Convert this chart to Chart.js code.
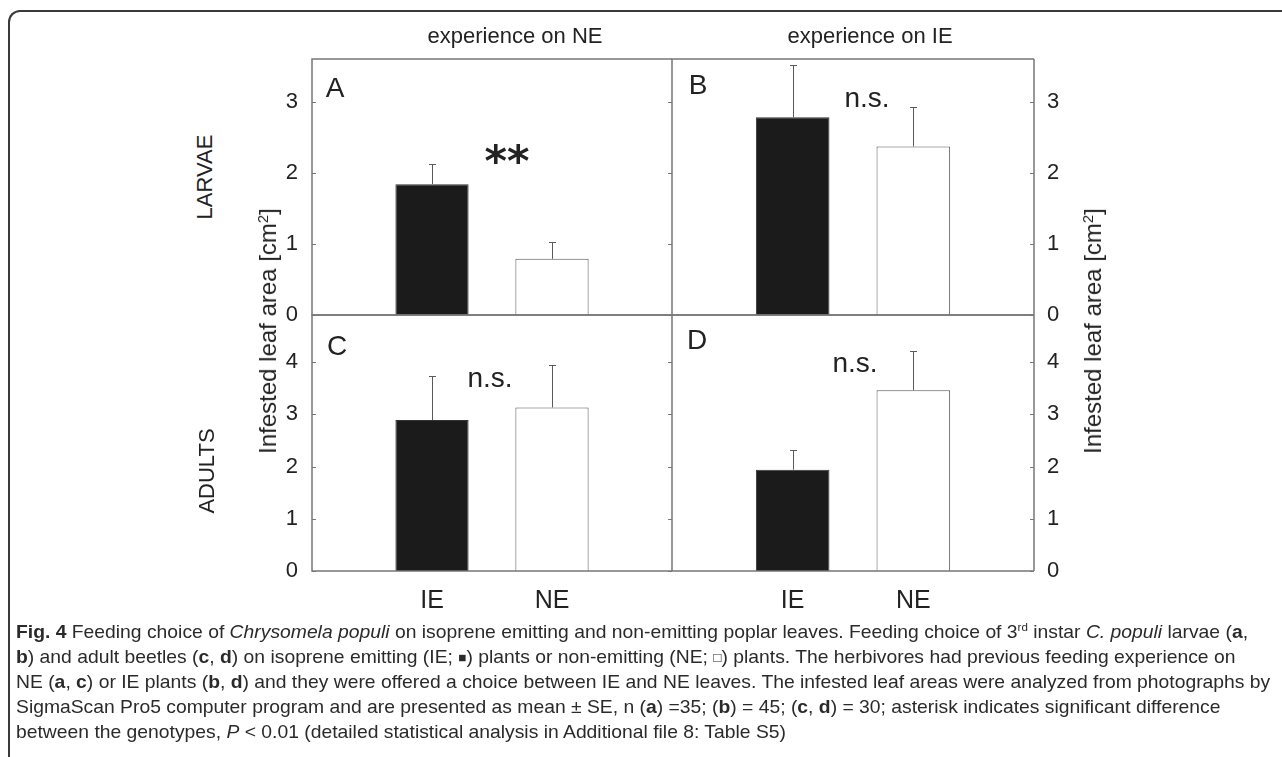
<!DOCTYPE html>
<html><head><meta charset="utf-8">
<script src="https://cdn.jsdelivr.net/npm/chart.js@4.4.1/dist/chart.umd.min.js"></script>
<style>
html,body{margin:0;padding:0;background:#fff;width:1282px;height:757px;overflow:hidden;}
body{position:relative;font-family:"Liberation Sans",Arial,sans-serif;color:#222;}
.frame{position:absolute;left:8px;top:10px;width:1300px;height:800px;border-top:2px solid #3a3a3a;border-left:2px solid #3a3a3a;border-top-left-radius:12px;}
.cv{position:absolute;}
.t{position:absolute;white-space:nowrap;line-height:1;transform:translate(-50%,-50%);}
.rot{transform:translate(-50%,-50%) rotate(-90deg);}
.rot sup{font-size:0.62em;vertical-align:0.55em;line-height:0;}
.cap{position:absolute;left:16px;top:619px;font-family:"Liberation Sans Narrow","Liberation Sans",Arial,sans-serif;font-size:19px;line-height:25px;color:#2a2a2a;white-space:nowrap;transform-origin:0 0;}
.cap .ln{display:block;height:25px;}
.cap .w{display:inline-block;}
.cap sup{font-size:0.6em;vertical-align:0.6em;line-height:0;}
.cap .sq{font-size:0.7em;vertical-align:0.1em;}
</style></head>
<body>
<div class="frame"></div>
<canvas id="cA" class="cv" width="460" height="300" style="left:222px;top:40px"></canvas>
<canvas id="cB" class="cv" width="460" height="300" style="left:662px;top:40px"></canvas>
<canvas id="cC" class="cv" width="460" height="325" style="left:222px;top:296px"></canvas>
<canvas id="cD" class="cv" width="460" height="325" style="left:662px;top:296px"></canvas>

<div class="t" style="left:515px;top:36px;font-size:22px">experience on NE</div>
<div class="t" style="left:870px;top:36px;font-size:22px">experience on IE</div>
<div class="t rot" style="left:205px;top:177px;font-size:22px">LARVAE</div>
<div class="t rot" style="left:207px;top:471px;font-size:22px">ADULTS</div>
<div class="t rot" style="left:268px;top:331px;font-size:24px">Infested leaf area [cm<sup>2</sup>]</div>
<div class="t rot" style="left:1093px;top:331px;font-size:24px">Infested leaf area [cm<sup>2</sup>]</div>
<div class="t" style="left:335px;top:88px;font-size:28px">A</div>
<div class="t" style="left:698px;top:85px;font-size:28px">B</div>
<div class="t" style="left:337px;top:346px;font-size:28px">C</div>
<div class="t" style="left:697px;top:340px;font-size:28px">D</div>
<div class="t" style="left:507px;top:161px;font-size:43px;font-weight:bold;font-family:'DejaVu Sans',sans-serif">**</div>
<div class="t" style="left:867px;top:98px;font-size:28px">n.s.</div>
<div class="t" style="left:490px;top:378px;font-size:28px">n.s.</div>
<div class="t" style="left:855px;top:363px;font-size:28px">n.s.</div>

<div class="cap" id="cap">
<div class="ln"><span class="w" id="firstLine"><b>Fig. 4</b> Feeding choice of <i>Chrysomela populi</i> on isoprene emitting and non-emitting poplar leaves. Feeding choice of 3<sup>rd</sup> instar <i>C. populi</i> larvae (<b>a</b>,</span></div>
<div class="ln"><span class="w"><b>b</b>) and adult beetles (<b>c</b>, <b>d</b>) on isoprene emitting (IE; <span class="sq">■</span>) plants or non-emitting (NE; <span class="sq">□</span>) plants. The herbivores had previous feeding experience on</span></div>
<div class="ln"><span class="w">NE (<b>a</b>, <b>c</b>) or IE plants (<b>b</b>, <b>d</b>) and they were offered a choice between IE and NE leaves. The infested leaf areas were analyzed from photographs by</span></div>
<div class="ln"><span class="w">SigmaScan Pro5 computer program and are presented as mean ± SE, n (<b>a</b>) =35; (<b>b</b>) = 45; (<b>c</b>, <b>d</b>) = 30; asterisk indicates significant difference</span></div>
<div class="ln"><span class="w">between the genotypes, <i>P</i> &lt; 0.01 (detailed statistical analysis in Additional file 8: Table S5)</span></div>
</div>

<script>
// ---- data ----
const categories = ['IE', 'NE'];
const larvaeExpNE = [1.84, 0.79];
const larvaeExpNE_se = [0.29, 0.23];
const larvaeExpIE = [2.78, 2.37];
const larvaeExpIE_se = [0.73, 0.55];
const adultsExpNE = [2.89, 3.13];
const adultsExpNE_se = [0.84, 0.82];
const adultsExpIE = [1.94, 3.46];
const adultsExpIE_se = [0.37, 0.75];
const larvaeYMax = 3.6;
const adultsYMax = 4.9;
const yTickStep = 1;
const barFills = ['#1b1b1b', '#ffffff'];

const FONT = '"Liberation Sans", Arial, sans-serif';

const panelPlugin = {
  id: 'panel',
  afterDatasetsDraw(chart, args, opts) {
    const ctx = chart.ctx, a = chart.chartArea, y = chart.scales.y;
    ctx.save();
    // error bars
    ctx.strokeStyle = '#5a5a5a'; ctx.lineWidth = 1;
    const vals = chart.data.datasets[0].data;
    chart.getDatasetMeta(0).data.forEach((bar, i) => {
      const m = vals[i], s = opts.se[i];
      if (m == null || s == null) return;
      const base = y.getPixelForValue(m), top = Math.round(y.getPixelForValue(m + s)) + 0.5;
      const cx = Math.round(bar.x) + 0.5;
      ctx.beginPath();
      ctx.moveTo(cx, base); ctx.lineTo(cx, top);
      ctx.moveTo(cx - 3.5, top); ctx.lineTo(cx + 3.5, top);
      ctx.stroke();
    });
    // frame
    ctx.strokeStyle = '#777'; ctx.lineWidth = 1.5;
    ctx.beginPath();
    ctx.moveTo(a.right, a.top); ctx.lineTo(a.left, a.top); ctx.lineTo(a.left, a.bottom); ctx.lineTo(a.right, a.bottom);
    if (opts.drawRight) { ctx.moveTo(a.right, a.top); ctx.lineTo(a.right, a.bottom); }
    ctx.stroke();
    // inward ticks
    ctx.lineWidth = 1;
    y.ticks.forEach(t => {
      const py = Math.round(y.getPixelForValue(t.value)) + 0.5;
      ctx.beginPath();
      if (opts.tickLeft) { ctx.moveTo(a.left, py); ctx.lineTo(a.left + 4, py); }
      if (opts.tickRight) { ctx.moveTo(a.right, py); ctx.lineTo(a.right - 4, py); }
      ctx.stroke();
    });
    ctx.restore();
  }
};

function makeChart(id, means, se, yMax, side, showX) {
  const labels = ['', ...categories, ''];
  const data = [null, ...means, null];
  const seP = [null, ...se, null];
  return new Chart(document.getElementById(id), {
    type: 'bar',
    data: { labels, datasets: [{
      data,
      backgroundColor: ['#fff', ...barFills, '#fff'],
      borderColor: ['#555', '#333', '#555', '#555'],
      borderWidth: 1,
      categoryPercentage: 1, barPercentage: 0.61
    }]},
    options: {
      responsive: false, animation: false, devicePixelRatio: 1,
      layout: { padding: { top: 19, bottom: showX ? 0 : 25, left: side === 'right' ? 10 : 0, right: side === 'left' ? 10 : 0 } },
      plugins: { legend: { display: false }, tooltip: { enabled: false },
        panel: { se: seP, tickLeft: side === 'left', tickRight: true, drawRight: side === 'right' } },
      scales: {
        x: {
          type: 'category', offset: false, display: showX,
          grid: { display: false, drawTicks: false }, border: { display: false },
          ticks: { font: { size: 25, family: FONT }, color: '#222', padding: 15, autoSkip: false, maxRotation: 0 },
          afterFit: s => { if (showX) s.height = 50; s.paddingLeft = 0; s.paddingRight = 0; }
        },
        y: {
          position: side, min: 0, max: yMax,
          grid: { display: false, drawTicks: false }, border: { display: false },
          ticks: { stepSize: yTickStep, includeBounds: false, font: { size: 22, family: FONT }, color: '#222', padding: side === 'left' ? 14 : 13 },
          afterFit: s => { s.width = side === 'left' ? 90 : 88; s.paddingTop = 0; s.paddingBottom = 0; }
        }
      }
    },
    plugins: [panelPlugin]
  });
}

makeChart('cA', larvaeExpNE, larvaeExpNE_se, larvaeYMax, 'left', false);
makeChart('cB', larvaeExpIE, larvaeExpIE_se, larvaeYMax, 'right', false);
makeChart('cC', adultsExpNE, adultsExpNE_se, adultsYMax, 'left', true);
makeChart('cD', adultsExpIE, adultsExpIE_se, adultsYMax, 'right', true);

// condense the caption uniformly so its widest line stays inside the frame
(function(){
  const cap = document.getElementById('cap');
  const w = document.getElementById('firstLine').getBoundingClientRect().width;
  cap.style.transform = 'scaleX(' + (1232 / w) + ')';
})();
</script>
</body></html>
